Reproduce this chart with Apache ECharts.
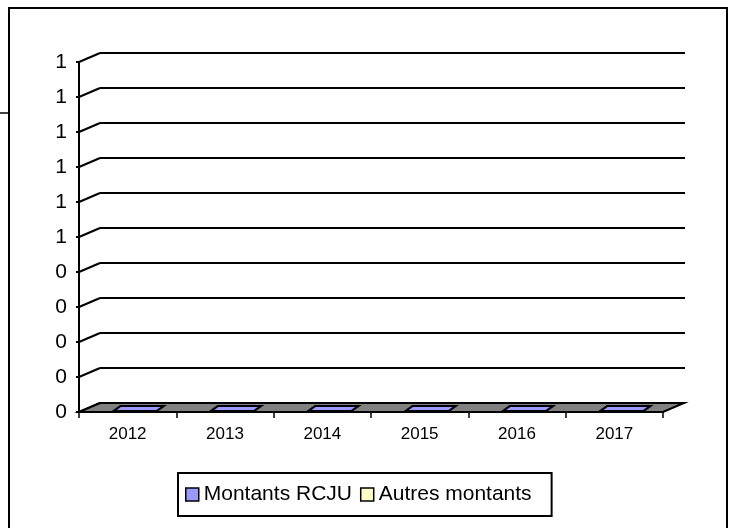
<!DOCTYPE html>
<html>
<head>
<meta charset="utf-8">
<script src="https://cdn.jsdelivr.net/npm/echarts@6/dist/echarts.min.js"></script>
<style>
  html, body { margin: 0; padding: 0; background: #ffffff; }
  #chart { width: 732px; height: 528px; }
</style>
</head>
<body>
<div id="chart"></div>
<script>
// Chart data
var years = ['2012', '2013', '2014', '2015', '2016', '2017'];
var montantsRCJU = [0, 0, 0, 0, 0, 0];
var autresMontants = [0, 0, 0, 0, 0, 0];
var yTickValues = [0, 0.1, 0.2, 0.3, 0.4, 0.5, 0.6, 0.7, 0.8, 0.9, 1];
var yTickLabels = ['0', '0', '0', '0', '0', '1', '1', '1', '1', '1', '1'];

var FONT = "'Liberation Sans', Arial, sans-serif";
var BLUE = '#9999ff';
var YELLOW = '#ffffcc';
var FLOOR = '#808080';
// oblique depth offset of the back wall
var DEPTH = [21, -9];
// depth placement of each column: front edge and back edge offsets
var BAR_FRONT = [7.5, -1];
var BAR_BACK = [14.5, -6];
var BAR_HALF = 0.22;

function tickLabel(v) {
  var best = 0;
  for (var i = 0; i < yTickValues.length; i++) {
    if (Math.abs(yTickValues[i] - v) < Math.abs(yTickValues[best] - v)) best = i;
  }
  return yTickLabels[best];
}

function poly(points, fill) {
  return {
    type: 'polygon',
    shape: { points: points },
    style: { fill: fill, stroke: '#000', lineWidth: 2, lineJoin: 'miter' }
  };
}

// 3-D column: front face, right side and top face
function columnRenderer(baseArr, valArr, color) {
  return function (params, api) {
    var i = api.value(0);
    var base = baseArr[i];
    var top = base + valArr[i];
    var pTop = api.coord([i, top]);
    var pBase = api.coord([i, base]);
    var half = api.size([1, 0])[0] * BAR_HALF;
    var cx = pTop[0];
    var fl = cx + BAR_FRONT[0] - half, fr = cx + BAR_FRONT[0] + half;
    var bl = cx + BAR_BACK[0] - half, br = cx + BAR_BACK[0] + half;
    var fyT = pTop[1] + BAR_FRONT[1], fyB = pBase[1] + BAR_FRONT[1];
    var byT = pTop[1] + BAR_BACK[1], byB = pBase[1] + BAR_BACK[1];
    var children = [];
    if (fyB - fyT > 0.5) {
      children.push(poly([[fl, fyT], [fr, fyT], [fr, fyB], [fl, fyB]], color));
      children.push(poly([[fr, fyT], [br, byT], [br, byB], [fr, fyB]], echarts.color.lift(color, -0.3)));
    }
    children.push(poly([[fl, fyT], [fr, fyT], [br, byT], [bl, byT]], color));
    return { type: 'group', children: children };
  };
}

var chart = echarts.init(document.getElementById('chart'), null, { renderer: 'canvas' });

var option = {
  backgroundColor: '#ffffff',
  animation: false,
  textStyle: { fontFamily: FONT, color: '#000' },
  grid: [
    { left: 79, top: 62, width: 584, height: 350 },   // front plane
    { left: 100, top: 53, width: 585, height: 350 }   // back wall
  ],
  xAxis: [
    {
      type: 'category', gridIndex: 0, data: years,
      axisLine: { show: true, lineStyle: { color: '#000', width: 2 } },
      axisTick: { show: true, interval: 0, length: 6, lineStyle: { color: '#000', width: 1.5 } },
      axisLabel: { show: true, interval: 0, margin: 14, fontSize: 17, color: '#000', fontFamily: FONT },
      splitLine: { show: false }
    },
    {
      type: 'category', gridIndex: 1, data: years, show: false
    }
  ],
  yAxis: [
    {
      type: 'value', gridIndex: 0, min: 0, max: 1, interval: 0.1,
      axisLine: { show: true, lineStyle: { color: '#000', width: 2 } },
      axisTick: { show: true, length: 3, lineStyle: { color: '#000', width: 2 } },
      axisLabel: { show: true, margin: 12, fontSize: 21, color: '#000', fontFamily: FONT, formatter: tickLabel },
      splitLine: { show: false }
    },
    {
      type: 'value', gridIndex: 1, min: 0, max: 1, interval: 0.1,
      axisLine: { show: false }, axisTick: { show: false }, axisLabel: { show: false },
      splitLine: { show: true, lineStyle: { color: '#000', width: 2 } }
    }
  ],
  legend: {
    left: 178, top: 473,
    orient: 'horizontal',
    padding: [11, 20, 11, 7],
    borderColor: '#000', borderWidth: 2,
    itemWidth: 13, itemHeight: 13, itemGap: 8,
    textStyle: { fontSize: 21, color: '#000', fontFamily: FONT },
    data: [
      { name: 'Montants RCJU', icon: 'rect', itemStyle: { color: BLUE, borderColor: '#000', borderWidth: 1.5 } },
      { name: 'Autres montants', icon: 'rect', itemStyle: { color: YELLOW, borderColor: '#000', borderWidth: 1.5 } }
    ]
  },
  series: [
    {
      // diagonal links from the value axis to the back wall
      type: 'custom', name: 'depthLinks', xAxisIndex: 0, yAxisIndex: 0, silent: true, z: 3,
      data: yTickValues.map(function (v) { return [0, v]; }),
      renderItem: function (params, api) {
        var p = api.coord([0, api.value(1)]);
        var x0 = params.coordSys.x;
        return {
          type: 'line',
          shape: { x1: x0, y1: p[1], x2: x0 + DEPTH[0], y2: p[1] + DEPTH[1] },
          style: { stroke: '#000', lineWidth: 2 }
        };
      }
    },
    {
      // floor of the plot area
      type: 'custom', name: 'floor', xAxisIndex: 0, yAxisIndex: 0, silent: true, z: 4,
      data: [[0, 0]],
      renderItem: function (params, api) {
        var cs = params.coordSys;
        var y0 = api.coord([0, 0])[1];
        var x0 = cs.x, x1 = cs.x + cs.width;
        return {
          type: 'polygon',
          shape: { points: [[x0, y0], [x1, y0], [x1 + DEPTH[0], y0 + DEPTH[1]], [x0 + DEPTH[0], y0 + DEPTH[1]]] },
          style: { fill: FLOOR, stroke: '#000', lineWidth: 2, lineJoin: 'miter' }
        };
      }
    },
    {
      type: 'custom', name: 'Autres montants', xAxisIndex: 0, yAxisIndex: 0, z: 5,
      itemStyle: { color: YELLOW },
      data: autresMontants.map(function (v, i) { return [i, v]; }),
      renderItem: columnRenderer(montantsRCJU, autresMontants, YELLOW)
    },
    {
      type: 'custom', name: 'Montants RCJU', xAxisIndex: 0, yAxisIndex: 0, z: 6,
      itemStyle: { color: BLUE },
      data: montantsRCJU.map(function (v, i) { return [i, v]; }),
      renderItem: columnRenderer(montantsRCJU.map(function () { return 0; }), montantsRCJU, BLUE)
    }
  ],
  graphic: [
    {
      type: 'rect', silent: true, z: 100,
      shape: { x: 9, y: 8, width: 718, height: 540 },
      style: { fill: null, stroke: '#000', lineWidth: 2 }
    },
    {
      type: 'line', silent: true, z: 100,
      shape: { x1: 0, y1: 113, x2: 9, y2: 113 },
      style: { stroke: '#000', lineWidth: 1.5 }
    }
  ]
};

chart.setOption(option);
</script>
</body>
</html>
